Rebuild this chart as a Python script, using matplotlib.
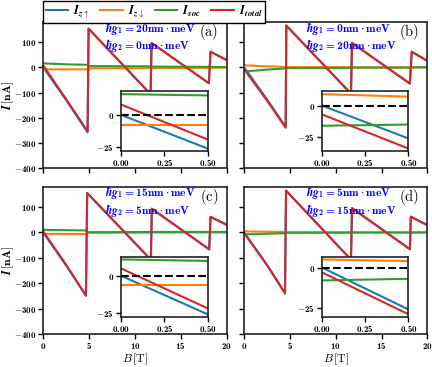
import matplotlib
matplotlib.use("Agg")
import matplotlib.pyplot as plt
from matplotlib.ticker import FuncFormatter

plt.rcParams['mathtext.fontset'] = 'custom'
plt.rcParams['mathtext.rm'] = 'cmr10'
plt.rcParams['mathtext.it'] = 'cmmi10'
plt.rcParams['mathtext.bf'] = 'cmb10'
plt.rcParams['mathtext.bfit'] = 'STIXGeneral:italic:bold'
plt.rcParams['mathtext.fallback'] = 'cm'
plt.rcParams['font.family'] = 'serif'
plt.rcParams['font.serif'] = ['DejaVu Serif']

# magnetic field breakpoints (T) and currents (nA), read per panel
B_a = [0, 0.5, 2.5, 4.84, 4.95, 11.71, 11.82, 18.07, 18.25, 20]
up_a = [0, -26, -130, -258, 153, -107, 97, -63, 62, 29]
down_a = [-8, -8, -8, -8, -4, -3, -3, -2, -2, -1]
soc_a = [16, 15, 12, 10, 5, 4, 3, 2, 2, 1]
tot_a = [8, -19, -126, -254, 154, -106, 97, -63, 62, 29]

B_b = [0, 0.5, 2.5, 4.52, 4.59, 11.66, 11.77, 18.1, 18.3, 20]
up_b = [0, -26, -128, -236, 166, -104, 98, -64, 62, 26]
down_b = [9, 7, 4, 2, 1, 1, 0, 0, 0, 0]
soc_b = [-16, -15, -9, -4, -3, -2, -1, -1, 0, 0]
tot_b = [-7, -34, -133, -240, 166, -105, 97, -65, 62, 26]

B_c = [0, 0.5, 2.5, 4.66, 4.8, 11.74, 11.85, 18.1, 18.25, 20]
up_c = [0, -26, -130, -250, 155, -108, 93, -67, 61, 30]
down_c = [-6, -6, -6, -6, -1, -1, 0, 0, 0, 0]
soc_c = [11, 10, 9, 8, 1, 2, 2, 2, 2, 2]
tot_c = [5, -22, -127, -248, 156, -107, 94, -66, 62, 31]

B_d = [0, 0.5, 2.5, 4.45, 4.56, 11.66, 11.77, 18.1, 18.2, 20]
up_d = [0, -26, -128, -238, 165, -107, 96, -66, 62, 29]
down_d = [5, 4, 3, 2, 1, 1, 0, 0, 0, 0]
soc_d = [-8, -7, -5, -3, -1, -1, 0, 0, 0, 0]
tot_d = [-3, -29, -130, -241, 165, -107, 96, -66, 62, 29]

g1 = [20, 0, 15, 5]
g2 = [0, 20, 5, 15]
tags = ['(a)', '(b)', '(c)', '(d)']

panels = [
    (B_a, up_a, down_a, soc_a, tot_a),
    (B_b, up_b, down_b, soc_b, tot_b),
    (B_c, up_c, down_c, soc_c, tot_c),
    (B_d, up_d, down_d, soc_d, tot_d),
]

names = [r'$\mathbfit{I}_{\mathbfit{z}\uparrow}$', r'$\mathbfit{I}_{\mathbfit{z}\downarrow}$',
         r'$\mathbfit{I}_{\mathbfit{soc}}$', r'$\mathbfit{I}_{\mathbfit{total}}$']
colors = ['#1f77b4', '#ff7f0e', '#2ca02c', '#d62728']


def bold(fmt):
    return FuncFormatter(lambda v, p: r'$\mathbf{' + (fmt % v) + '}$')


def style(ax, lw=1.2):
    for s in ax.spines.values():
        s.set_linewidth(lw)
        s.set_color('#222222')
    ax.tick_params(direction='out', length=3.5, width=1, labelsize=6.5, pad=1.5)


fig = plt.figure(figsize=(4.32, 3.67), dpi=100)

rects = [
    [0.100, 0.542, 0.4245, 0.398],
    [0.5655, 0.542, 0.4236, 0.398],
    [0.100, 0.090, 0.4245, 0.401],
    [0.5655, 0.090, 0.4236, 0.401],
]

handles = []
for i, (B, up, down, soc, tot) in enumerate(panels):
    ax = fig.add_axes(rects[i])
    lines = []
    for y, c in zip([up, down, soc, tot], colors):
        ln, = ax.plot(B, y, color=c, lw=1.5)
        lines.append(ln)
    if i == 0:
        handles = lines
    ax.set_xlim(0, 20)
    ax.set_ylim(-400, 180)
    ax.set_xticks([0, 5, 10, 15, 20])
    ax.set_yticks([-400, -300, -200, -100, 0, 100])
    ax.xaxis.set_major_formatter(bold('%d'))
    ax.yaxis.set_major_formatter(bold('%d'))
    style(ax)
    if i < 2:
        ax.tick_params(labelbottom=False)
    else:
        ax.set_xlabel(r'$B\,[\mathrm{T}]$', fontsize=8.5, va='center')
        ax.xaxis.set_label_coords(0.5, -0.172)
    if i % 2 == 1:
        ax.tick_params(labelleft=False)
    else:
        ax.set_ylabel(r'$\mathbfit{I}\,[\mathbf{nA}]$', fontsize=8.5, va='center')
        ax.yaxis.set_label_coords(-0.188, 0.5)

    ax.text(0.335, 0.958, r'$\mathbfit{\hbar g}_{\mathbf{1}} \mathbf{=20nm\cdot meV}$'.replace('20', str(g1[i])),
            transform=ax.transAxes, color='blue', fontsize=8.3, va='center', ha='left')
    ax.text(0.335, 0.842, r'$\mathbfit{\hbar g}_{\mathbf{2}} \mathbf{=20nm\cdot meV}$'.replace('20', str(g2[i])),
            transform=ax.transAxes, color='blue', fontsize=8.3, va='center', ha='left')
    ax.text(0.957, 0.93, r'$\mathrm{%s}$' % tags[i], transform=ax.transAxes,
            fontsize=10.5, va='center', ha='right')

    # inset: zoom on the low-field region
    ins = ax.inset_axes([0.424, 0.115, 0.473, 0.41])
    for y, c in zip([up, down, soc, tot], colors):
        ins.plot(B[:2], y[:2], color=c, lw=1.5)
    ins.axhline(0, color='k', ls='--', lw=1.5)
    ins.set_xlim(0, 0.5)
    ins.set_xticks([0, 0.25, 0.5])
    ins.set_yticks([-25, 0])
    ins.xaxis.set_major_formatter(bold('%.2f'))
    ins.yaxis.set_major_formatter(bold('%d'))
    style(ins)

fig.legend(handles, names, loc='upper left', bbox_to_anchor=(0.1, 0.998),
           ncol=4, fontsize=9, frameon=True, fancybox=False, edgecolor='k',
           framealpha=1, borderaxespad=0, handlelength=1.8, columnspacing=0.8,
           handletextpad=0.4, borderpad=0.2)

fig.savefig('out.png', dpi=100)
